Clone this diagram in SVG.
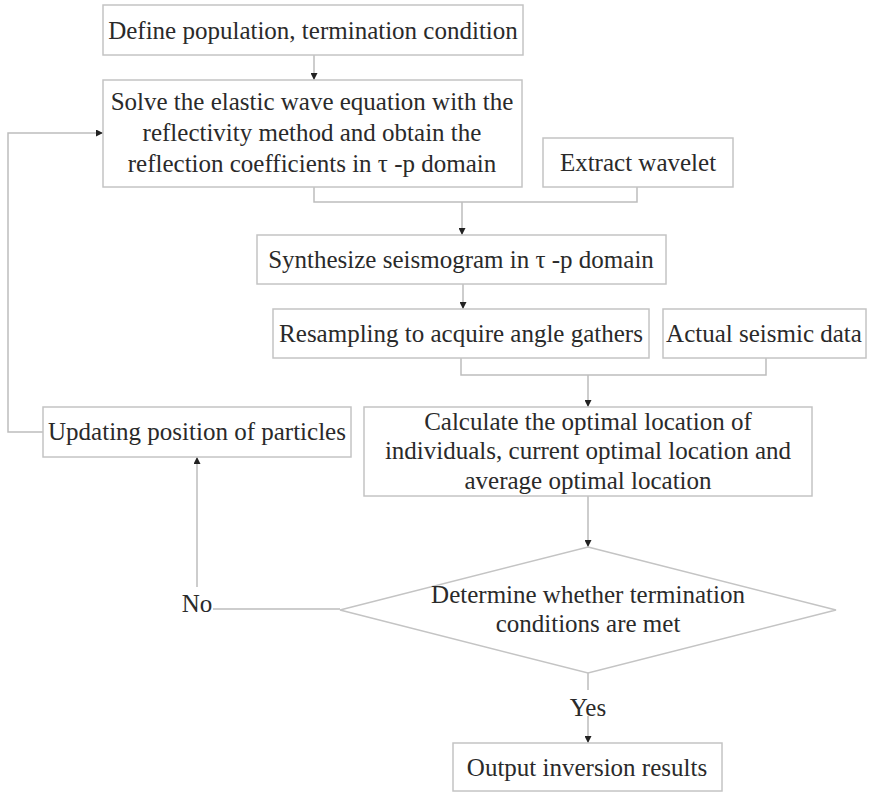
<svg xmlns="http://www.w3.org/2000/svg" width="869" height="793" viewBox="0 0 869 793">
<defs>
<marker id="ah" viewBox="0 0 10 10" refX="10" refY="5" markerWidth="7" markerHeight="7" markerUnits="userSpaceOnUse" orient="auto">
<path d="M0,0 L10,5 L0,10 z" fill="#222"/>
</marker>
</defs>
<style>
.box{fill:#fff;stroke:#c4c4c4;stroke-width:1.5}
.t{font-family:"Liberation Serif","Times New Roman",serif;font-size:25px;fill:#2a2a2a;text-anchor:middle}
.c{fill:none;stroke:#bdbdbd;stroke-width:1.5}
.a{marker-end:url(#ah)}
</style>
<rect width="869" height="793" fill="#fff"/>
<g id="connectors">
<path class="c a" d="M314,55 V80"/>
<path class="c" d="M314,187 V202 H637 V187"/>
<path class="c a" d="M462,202 V235"/>
<path class="c a" d="M463,284 V309"/>
<path class="c" d="M461,358 V375 H766 V358"/>
<path class="c a" d="M588,375 V407"/>
<path class="c a" d="M588,496 V547"/>
<path class="c" d="M588,673 V690"/>
<path class="c a" d="M588,716 V743"/>
<path class="c" d="M340,609 H213"/>
<path class="c a" d="M197,587 V457"/>
<path class="c a" d="M43,432 H8 V133 H103"/>
<text class="t" x="588" y="716">Yes</text>
<text class="t" x="197" y="612">No</text>
</g>
<g id="n1">
<rect class="box" x="103" y="5" width="420" height="50"/>
<text class="t" x="313" y="39">Define population, termination condition</text>
</g>
<g id="n2">
<rect class="box" x="103" y="80" width="419" height="107"/>
<text class="t" x="312" y="110">Solve the elastic wave equation with the</text>
<text class="t" x="312" y="141">reflectivity method and obtain the</text>
<text class="t" x="312" y="172">reflection coefficients in τ -p domain</text>
</g>
<g id="n3">
<rect class="box" x="543" y="138" width="190" height="49"/>
<text class="t" x="638" y="171">Extract wavelet</text>
</g>
<g id="n4">
<rect class="box" x="257" y="235" width="409" height="49"/>
<text class="t" x="461" y="268">Synthesize seismogram in  τ -p domain</text>
</g>
<g id="n5">
<rect class="box" x="273" y="309" width="376" height="49"/>
<text class="t" x="461" y="342">Resampling to acquire angle gathers</text>
</g>
<g id="n6">
<rect class="box" x="663" y="309" width="203" height="49"/>
<text class="t" x="764" y="342">Actual seismic data</text>
</g>
<g id="n7">
<rect class="box" x="43" y="407" width="308" height="50"/>
<text class="t" x="197" y="440">Updating position of particles</text>
</g>
<g id="n8">
<rect class="box" x="364" y="407" width="448" height="89"/>
<text class="t" x="588" y="430">Calculate the optimal location of</text>
<text class="t" x="588" y="459">individuals, current optimal location and</text>
<text class="t" x="588" y="489">average optimal location</text>
</g>
<g id="n9">
<polygon class="box" points="588,547 836,610 588,673 340,610"/>
<text class="t" x="588" y="603">Determine whether termination</text>
<text class="t" x="588" y="632">conditions are met</text>
</g>
<g id="n10">
<rect class="box" x="453" y="743" width="269" height="48"/>
<text class="t" x="587" y="776">Output inversion results</text>
</g>
</svg>
